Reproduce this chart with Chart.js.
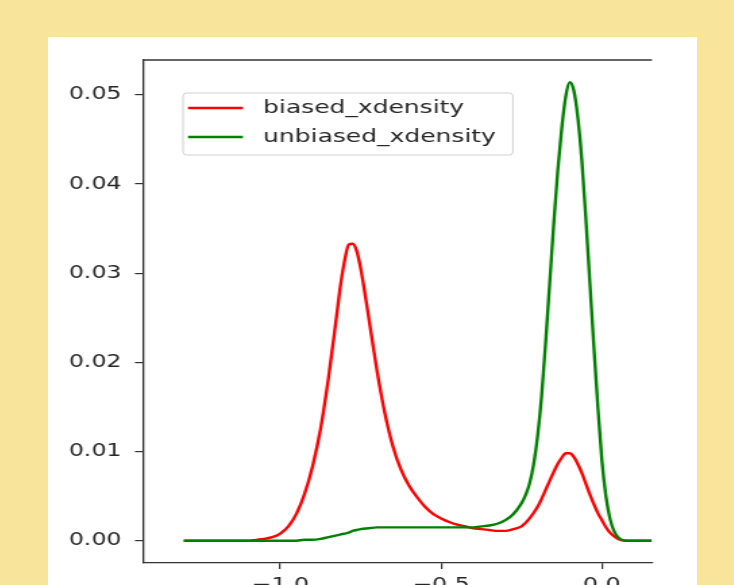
<!DOCTYPE html>
<html>
<head>
<meta charset="utf-8">
<script src="https://cdn.jsdelivr.net/npm/chart.js@4.4.1/dist/chart.umd.min.js"></script>
<style>
  html, body { margin: 0; padding: 0; width: 734px; height: 585px; overflow: hidden; background: #f8e49a; }
  #panel { position: absolute; left: 48px; top: 37px; width: 649px; height: 600px; background: #ffffff; }
  /* the source picture is stretched sideways, so the chart is too */
  #wrap { position: absolute; left: 48px; top: 37px; width: 481px; height: 600px; transform: scaleX(1.35); transform-origin: 0 0; }
</style>
</head>
<body>
<div id="panel"></div>
<div id="wrap"><canvas id="kde"></canvas></div>
<script>
// x positions of the density samples
const xs = [
  -1.30, -1.25, -1.20, -1.15, -1.10, -1.075, -1.05, -1.025, -1.00, -0.975,
  -0.95, -0.925, -0.90, -0.875, -0.85, -0.825, -0.8125, -0.80, -0.7875, -0.775,
  -0.7625, -0.75, -0.725, -0.70, -0.675, -0.65, -0.625, -0.60, -0.575, -0.55,
  -0.525, -0.50, -0.475, -0.45, -0.425, -0.40, -0.375, -0.35, -0.325, -0.30,
  -0.275, -0.25, -0.2375, -0.225, -0.2125, -0.20, -0.1875, -0.175, -0.1625, -0.15,
  -0.1375, -0.125, -0.1125, -0.10, -0.0875, -0.075, -0.0625, -0.05, -0.0375, -0.025,
  -0.0125, 0.00, 0.0125, 0.025, 0.0375, 0.05, 0.075, 0.10, 0.125, 0.155
];

const biased = [
  0, 0, 0, 0, 0.0000, 0.0001, 0.0002, 0.0004, 0.0008, 0.0016,
  0.0030, 0.0052, 0.0083, 0.0125, 0.0183, 0.0252, 0.0287, 0.0314, 0.0332, 0.0333,
  0.0325, 0.0305, 0.0250, 0.0192, 0.0143, 0.0106, 0.0080, 0.0062, 0.0049, 0.0038,
  0.0030, 0.0025, 0.0021, 0.0018, 0.0016, 0.0014, 0.0013, 0.0012, 0.0011, 0.0011,
  0.0013, 0.0016, 0.0020, 0.0025, 0.0031, 0.0038, 0.0047, 0.0057, 0.0067, 0.0077,
  0.0086, 0.0093, 0.0098, 0.0098, 0.0094, 0.0086, 0.0076, 0.0064, 0.0052, 0.0041,
  0.0031, 0.0023, 0.0015, 0.0009, 0.0005, 0.0002, 0.0000, 0, 0, 0
];

const unbiased = [
  0, 0, 0, 0, 0, 0, 0, 0, 0, 0.0000,
  0.0000, 0.0001, 0.0001, 0.0002, 0.0004, 0.0006, 0.0007, 0.0008, 0.0009, 0.0011,
  0.0012, 0.0013, 0.0014, 0.0015, 0.0015, 0.0015, 0.0015, 0.0015, 0.0015, 0.0015,
  0.0015, 0.0015, 0.0015, 0.0015, 0.0015, 0.0015, 0.0016, 0.0017, 0.0019, 0.0023,
  0.0030, 0.0042, 0.0051, 0.0064, 0.0085, 0.0117, 0.0162, 0.0222, 0.0288, 0.0354,
  0.0414, 0.0462, 0.0498, 0.0514, 0.0505, 0.0475, 0.0427, 0.0362, 0.0290, 0.0218,
  0.0150, 0.0090, 0.0050, 0.0025, 0.0011, 0.0004, 0.0000, 0, 0, 0
];

const seriesNames = ['biased_xdensity', 'unbiased_xdensity'];
const xTicks = [-1.0, -0.5, 0.0];
const yTicks = [0.00, 0.01, 0.02, 0.03, 0.04, 0.05];

const ink = '#262626';
const spine = '#333333';
const font = 'DejaVu Sans';

function toPoints(ys) {
    return xs.map((x, i) => ({ x: x, y: ys[i] }));
}

// top spine + matplotlib style legend box inside the axes
const framePlugin = {
    id: 'frame',
    afterDatasetsDraw(chart) {
        const ctx = chart.ctx;
        const a = chart.chartArea;
        ctx.save();
        ctx.strokeStyle = spine;
        ctx.lineWidth = 1.3;
        ctx.beginPath();
        ctx.moveTo(a.left, a.top);
        ctx.lineTo(a.right, a.top);
        ctx.stroke();

        const bx = a.left + 29.6, by = a.top + 33, bw = 244.4, bh = 62;
        ctx.fillStyle = 'rgba(255,255,255,0.8)';
        ctx.strokeStyle = '#d0d0d0';
        ctx.lineWidth = 1;
        ctx.beginPath();
        ctx.roundRect(bx, by, bw, bh, 3);
        ctx.fill();
        ctx.stroke();

        ctx.font = '18.5px "' + font + '"';
        ctx.textBaseline = 'middle';
        ctx.textAlign = 'left';
        chart.data.datasets.forEach((ds, i) => {
            const ly = by + 15 + i * 29;
            ctx.strokeStyle = ds.borderColor;
            ctx.lineWidth = 2.4;
            ctx.beginPath();
            ctx.moveTo(bx + 3.7, ly);
            ctx.lineTo(bx + 44.4, ly);
            ctx.stroke();
            ctx.fillStyle = ink;
            ctx.fillText(ds.label, bx + 59.3, ly);
        });
        ctx.restore();
    }
};

const ctx = document.getElementById('kde').getContext('2d');
new Chart(ctx, {
    type: 'line',
    data: {
        datasets: [
            {
                label: seriesNames[0],
                data: toPoints(biased),
                borderColor: '#ff0000',
                borderWidth: 2.4,
                pointRadius: 0,
                cubicInterpolationMode: 'monotone',
                order: 1
            },
            {
                label: seriesNames[1],
                data: toPoints(unbiased),
                borderColor: '#008000',
                borderWidth: 2.4,
                pointRadius: 0,
                cubicInterpolationMode: 'monotone',
                order: 0
            }
        ]
    },
    options: {
        responsive: true,
        maintainAspectRatio: false,
        animation: false,
        layout: { padding: { top: 23, right: 33.6, left: 0, bottom: 0 } },
        plugins: {
            legend: { display: false },
            tooltip: { enabled: false }
        },
        scales: {
            x: {
                type: 'linear',
                min: -1.4268,
                max: 0.1558,
                afterFit: (s) => { s.height = 74; },
                afterBuildTicks: (s) => { s.ticks = xTicks.map(v => ({ value: v })); },
                border: { display: true, color: spine, width: 1.3 },
                grid: { drawOnChartArea: false, drawTicks: true, tickLength: 6, color: spine, lineWidth: 1.2 },
                ticks: {
                    color: ink,
                    padding: 6,
                    maxRotation: 0,
                    font: { family: font, size: 17.5 },
                    callback: (v) => (v < 0 ? '\u2212' : '') + Math.abs(v).toFixed(1)
                }
            },
            y: {
                min: -0.0025,
                max: 0.0539,
                afterFit: (s) => { s.width = 70.4; },
                afterBuildTicks: (s) => { s.ticks = yTicks.map(v => ({ value: v })); },
                border: { display: true, color: spine, width: 1.3 },
                grid: { drawOnChartArea: false, drawTicks: true, tickLength: 6, color: spine, lineWidth: 1.2 },
                ticks: {
                    color: ink,
                    padding: 10,
                    font: { family: font, size: 17.5 },
                    callback: (v) => v.toFixed(2)
                }
            }
        }
    },
    plugins: [framePlugin]
});
</script>
</body>
</html>
